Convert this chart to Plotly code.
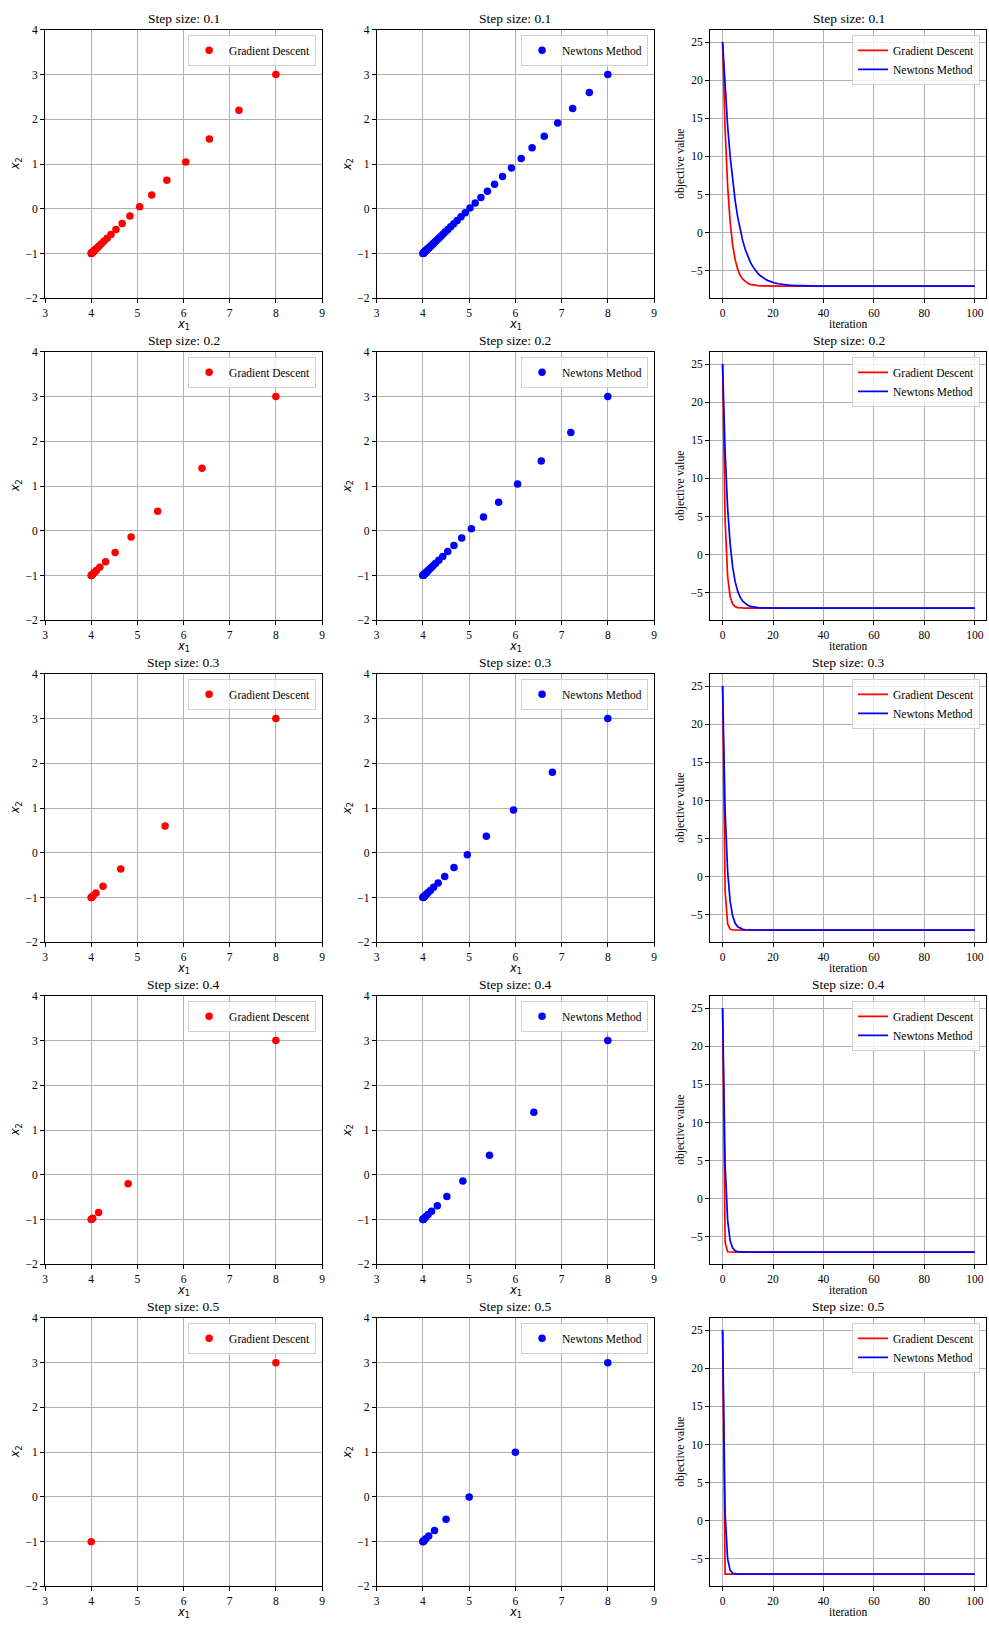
import plotly.graph_objects as go

# ---------------- data ----------------
step_sizes = ["0.1", "0.2", "0.3", "0.4", "0.5"]

# Gradient descent iterates (x1, x2)
gd_01_x1 = [8, 7.2, 6.56, 6.048, 5.638, 5.311, 5.049, 4.839, 4.671, 4.537, 4.429, 4.344, 4.275, 4.220, 4.176, 4.141,
            4.113, 4.090, 4.072, 4.058, 4.046, 4.037, 4.030, 4.024, 4.019, 4.015, 4.012, 4.010, 4.008, 4.006, 4.005, 4.0]
gd_01_x2 = [3, 2.2, 1.56, 1.048, 0.638, 0.311, 0.049, -0.161, -0.329, -0.463, -0.571, -0.656, -0.725, -0.780, -0.824, -0.859,
            -0.887, -0.910, -0.928, -0.942, -0.954, -0.963, -0.970, -0.976, -0.981, -0.985, -0.988, -0.990, -0.992, -0.994, -0.995, -1.0]
gd_02_x1 = [8, 6.4, 5.44, 4.864, 4.518, 4.311, 4.187, 4.112, 4.067, 4.040, 4.024, 4.015, 4.009, 4.005, 4.0]
gd_02_x2 = [3, 1.4, 0.44, -0.136, -0.482, -0.689, -0.813, -0.888, -0.933, -0.960, -0.976, -0.985, -0.991, -0.995, -1.0]
gd_03_x1 = [8, 5.6, 4.64, 4.256, 4.102, 4.041, 4.016, 4.007, 4.003, 4.0]
gd_03_x2 = [3, 0.6, -0.36, -0.744, -0.898, -0.959, -0.984, -0.993, -0.997, -1.0]
gd_04_x1 = [8, 4.8, 4.16, 4.032, 4.006, 4.0]
gd_04_x2 = [3, -0.2, -0.84, -0.968, -0.994, -1.0]
gd_05_x1 = [8, 4.0]
gd_05_x2 = [3, -1.0]

# Newton's method iterates (x1, x2)
nm_01_x1 = [8, 7.6, 7.24, 6.916, 6.624, 6.362, 6.126, 5.913, 5.722, 5.550, 5.395, 5.255, 5.130, 5.017, 4.915, 4.824,
            4.741, 4.667, 4.600, 4.540, 4.486, 4.438, 4.394, 4.355, 4.319, 4.287, 4.259, 4.233, 4.209, 4.188, 4.170, 4.153,
            4.137, 4.124, 4.111, 4.100, 4.090, 4.081, 4.073, 4.066, 4.059, 4.053, 4.048, 4.043, 4.039, 4.035, 4.031, 4.028,
            4.025, 4.023, 4.021, 4.019, 4.017, 4.015, 4.013, 4.012, 4.011, 4.010, 4.0]
nm_01_x2 = [3, 2.6, 2.24, 1.916, 1.624, 1.362, 1.126, 0.913, 0.722, 0.550, 0.395, 0.255, 0.130, 0.017, -0.085, -0.176,
            -0.259, -0.333, -0.400, -0.460, -0.514, -0.562, -0.606, -0.645, -0.681, -0.713, -0.741, -0.767, -0.791, -0.812, -0.830, -0.847,
            -0.863, -0.876, -0.889, -0.900, -0.910, -0.919, -0.927, -0.934, -0.941, -0.947, -0.952, -0.957, -0.961, -0.965, -0.969, -0.972,
            -0.975, -0.977, -0.979, -0.981, -0.983, -0.985, -0.987, -0.988, -0.989, -0.990, -1.0]
nm_02_x1 = [8, 7.2, 6.56, 6.048, 5.638, 5.311, 5.049, 4.839, 4.671, 4.537, 4.429, 4.344, 4.275, 4.220, 4.176, 4.141,
            4.113, 4.090, 4.072, 4.058, 4.046, 4.037, 4.030, 4.024, 4.019, 4.015, 4.012, 4.010, 4.008, 4.006, 4.005, 4.0]
nm_02_x2 = [3, 2.2, 1.56, 1.048, 0.638, 0.311, 0.049, -0.161, -0.329, -0.463, -0.571, -0.656, -0.725, -0.780, -0.824, -0.859,
            -0.887, -0.910, -0.928, -0.942, -0.954, -0.963, -0.970, -0.976, -0.981, -0.985, -0.988, -0.990, -0.992, -0.994, -0.995, -1.0]
nm_03_x1 = [8, 6.8, 5.96, 5.372, 4.960, 4.672, 4.471, 4.329, 4.231, 4.161, 4.113, 4.079, 4.055, 4.039, 4.027, 4.019,
            4.013, 4.009, 4.006, 4.0]
nm_03_x2 = [3, 1.8, 0.96, 0.372, -0.040, -0.328, -0.529, -0.671, -0.769, -0.839, -0.887, -0.921, -0.945, -0.961, -0.973, -0.981,
            -0.987, -0.991, -0.994, -1.0]
nm_04_x1 = [8, 6.4, 5.44, 4.864, 4.518, 4.311, 4.187, 4.112, 4.067, 4.040, 4.024, 4.015, 4.009, 4.005, 4.0]
nm_04_x2 = [3, 1.4, 0.44, -0.136, -0.482, -0.689, -0.813, -0.888, -0.933, -0.960, -0.976, -0.985, -0.991, -0.995, -1.0]
nm_05_x1 = [8, 6, 5, 4.5, 4.25, 4.125, 4.0625, 4.031, 4.016, 4.008, 4.004, 4.0]
nm_05_x2 = [3, 1, 0, -0.5, -0.75, -0.875, -0.9375, -0.969, -0.984, -0.992, -0.996, -1.0]

# objective value per iteration
iterations = [0, 1, 2, 3, 4, 5, 6, 7, 8, 9, 10, 11, 12, 13, 14, 15, 16, 17, 18, 19, 20,
              21, 22, 23, 24, 25, 26, 27, 28, 29, 30, 31, 32, 33, 34, 35, 36, 37, 38, 39, 40, 100]

gd_01_obj = [25, 13.48, 6.107, 1.389, -1.631, -3.564, -4.801, -5.593, -6.099, -6.424, -6.631,
             -6.764, -6.849, -6.903, -6.938, -6.960, -6.975, -6.984, -6.990, -6.993, -6.996,
             -6.997, -6.998, -6.999, -6.999, -7.0, -7.0, -7.0, -7.0, -7.0, -7.0,
             -7.0, -7.0, -7.0, -7.0, -7.0, -7.0, -7.0, -7.0, -7.0, -7.0, -7.0]
gd_02_obj = [25, 4.52, -2.853, -5.507, -6.463, -6.807, -6.930, -6.975, -6.991, -6.997, -6.999,
             -7.0, -7.0, -7.0, -7.0, -7.0, -7.0, -7.0, -7.0, -7.0, -7.0,
             -7.0, -7.0, -7.0, -7.0, -7.0, -7.0, -7.0, -7.0, -7.0, -7.0,
             -7.0, -7.0, -7.0, -7.0, -7.0, -7.0, -7.0, -7.0, -7.0, -7.0, -7.0]
gd_03_obj = [25, -1.88, -6.181, -6.869, -6.979, -6.997, -6.999, -7.0, -7.0, -7.0, -7.0,
             -7.0, -7.0, -7.0, -7.0, -7.0, -7.0, -7.0, -7.0, -7.0, -7.0,
             -7.0, -7.0, -7.0, -7.0, -7.0, -7.0, -7.0, -7.0, -7.0, -7.0,
             -7.0, -7.0, -7.0, -7.0, -7.0, -7.0, -7.0, -7.0, -7.0, -7.0, -7.0]
gd_04_obj = [25, -5.72, -6.949, -6.998, -7.0, -7.0, -7.0, -7.0, -7.0, -7.0, -7.0,
             -7.0, -7.0, -7.0, -7.0, -7.0, -7.0, -7.0, -7.0, -7.0, -7.0,
             -7.0, -7.0, -7.0, -7.0, -7.0, -7.0, -7.0, -7.0, -7.0, -7.0,
             -7.0, -7.0, -7.0, -7.0, -7.0, -7.0, -7.0, -7.0, -7.0, -7.0, -7.0]
gd_05_obj = [25, -7.0, -7.0, -7.0, -7.0, -7.0, -7.0, -7.0, -7.0, -7.0, -7.0,
             -7.0, -7.0, -7.0, -7.0, -7.0, -7.0, -7.0, -7.0, -7.0, -7.0,
             -7.0, -7.0, -7.0, -7.0, -7.0, -7.0, -7.0, -7.0, -7.0, -7.0,
             -7.0, -7.0, -7.0, -7.0, -7.0, -7.0, -7.0, -7.0, -7.0, -7.0, -7.0]

nm_01_obj = [25, 18.92, 13.995, 10.006, 6.775, 4.158, 2.038, 0.321, -1.070, -2.197, -3.109,
             -3.849, -4.447, -4.932, -5.325, -5.643, -5.901, -6.110, -6.279, -6.416, -6.527,
             -6.617, -6.690, -6.749, -6.796, -6.835, -6.866, -6.892, -6.912, -6.929, -6.942,
             -6.953, -6.962, -6.969, -6.975, -6.980, -6.984, -6.987, -6.989, -6.991, -6.993, -7.0]
nm_02_obj = [25, 13.48, 6.107, 1.389, -1.631, -3.564, -4.801, -5.593, -6.099, -6.424, -6.631,
             -6.764, -6.849, -6.903, -6.938, -6.960, -6.975, -6.984, -6.990, -6.993, -6.996,
             -6.997, -6.998, -6.999, -6.999, -7.0, -7.0, -7.0, -7.0, -7.0, -7.0,
             -7.0, -7.0, -7.0, -7.0, -7.0, -7.0, -7.0, -7.0, -7.0, -7.0, -7.0]
nm_03_obj = [25, 8.68, 0.683, -3.235, -5.155, -6.096, -6.557, -6.783, -6.894, -6.948, -6.974,
             -6.987, -6.994, -6.997, -6.998, -6.999, -7.0, -7.0, -7.0, -7.0, -7.0,
             -7.0, -7.0, -7.0, -7.0, -7.0, -7.0, -7.0, -7.0, -7.0, -7.0,
             -7.0, -7.0, -7.0, -7.0, -7.0, -7.0, -7.0, -7.0, -7.0, -7.0, -7.0]
nm_04_obj = [25, 4.52, -2.853, -5.507, -6.463, -6.807, -6.930, -6.975, -6.991, -6.997, -6.999,
             -7.0, -7.0, -7.0, -7.0, -7.0, -7.0, -7.0, -7.0, -7.0, -7.0,
             -7.0, -7.0, -7.0, -7.0, -7.0, -7.0, -7.0, -7.0, -7.0, -7.0,
             -7.0, -7.0, -7.0, -7.0, -7.0, -7.0, -7.0, -7.0, -7.0, -7.0, -7.0]
nm_05_obj = [25, 1.0, -5.0, -6.5, -6.875, -6.969, -6.992, -6.998, -7.0, -7.0, -7.0,
             -7.0, -7.0, -7.0, -7.0, -7.0, -7.0, -7.0, -7.0, -7.0, -7.0,
             -7.0, -7.0, -7.0, -7.0, -7.0, -7.0, -7.0, -7.0, -7.0, -7.0,
             -7.0, -7.0, -7.0, -7.0, -7.0, -7.0, -7.0, -7.0, -7.0, -7.0, -7.0]

x1_ticks = [3, 4, 5, 6, 7, 8, 9]
x2_ticks = [-2, -1, 0, 1, 2, 3, 4]
iter_ticks = [0, 20, 40, 60, 80, 100]
obj_ticks = [-5, 0, 5, 10, 15, 20, 25]

gd_x1 = [gd_01_x1, gd_02_x1, gd_03_x1, gd_04_x1, gd_05_x1]
gd_x2 = [gd_01_x2, gd_02_x2, gd_03_x2, gd_04_x2, gd_05_x2]
nm_x1 = [nm_01_x1, nm_02_x1, nm_03_x1, nm_04_x1, nm_05_x1]
nm_x2 = [nm_01_x2, nm_02_x2, nm_03_x2, nm_04_x2, nm_05_x2]
gd_obj = [gd_01_obj, gd_02_obj, gd_03_obj, gd_04_obj, gd_05_obj]
nm_obj = [nm_01_obj, nm_02_obj, nm_03_obj, nm_04_obj, nm_05_obj]

# ---------------- layout geometry ----------------
W, H = 989, 1631
col_px = [(42.3, 321.0), (376.0, 655.0), (711.3, 989.0)]
row_top0, row_pitch, ax_h = 24.0, 324.4, 270.5
SERIF = "Liberation Serif"
MATH = "DejaVu Sans"
GRID = "#b0b0b0"

fig = go.Figure()
layout = dict(width=W, height=H, margin=dict(l=0, r=0, t=0, b=0),
              paper_bgcolor="white", plot_bgcolor="white",
              font=dict(family=SERIF, size=11, color="black"),
              showlegend=True, annotations=[])


def py(y_px):
    return 1 - y_px / H


def px(x_px):
    return x_px / W


for r in range(5):
    top = row_top0 + r * row_pitch
    bot = top + ax_h
    for c in range(3):
        i = r * 3 + c + 1
        xa = "xaxis" if i == 1 else f"xaxis{i}"
        ya = "yaxis" if i == 1 else f"yaxis{i}"
        xr = "x" if i == 1 else f"x{i}"
        yr = "y" if i == 1 else f"y{i}"
        lg = "legend" if i == 1 else f"legend{i}"
        L, R = col_px[c]
        common = dict(showline=True, mirror=True, linecolor="black", linewidth=0.9,
                      ticks="outside", ticklen=4, tickwidth=0.9, tickcolor="black",
                      showgrid=True, gridcolor=GRID, gridwidth=0.9, zeroline=False,
                      tickfont=dict(family=SERIF, size=11.5, color="black"))
        if c < 2:
            layout[xa] = dict(domain=[px(L), px(R)], anchor=yr, range=[3, 9],
                              tickvals=x1_ticks, **common)
            layout[ya] = dict(domain=[py(bot), py(top)], anchor=xr, range=[-2, 4],
                              tickvals=x2_ticks, **common)
            if c == 0:
                fig.add_trace(go.Scatter(x=gd_x1[r], y=gd_x2[r], mode="markers",
                                         marker=dict(color="red", size=7.5),
                                         name="Gradient Descent", xaxis=xr, yaxis=yr,
                                         legend=lg))
            else:
                fig.add_trace(go.Scatter(x=nm_x1[r], y=nm_x2[r], mode="markers",
                                         marker=dict(color="blue", size=7.5),
                                         name="Newtons Method", xaxis=xr, yaxis=yr,
                                         legend=lg))
            xlabel = "<i>x</i><sub>1</sub>"
            ylabel = "<i>x</i><sub>2</sub>"
            lab_font = dict(family=MATH, size=11.5, color="black")
            ylab_x = L - 30
        else:
            layout[xa] = dict(domain=[px(L), 1.0], anchor=yr, range=[-5, 104.46],
                              tickvals=iter_ticks, **common)
            layout[ya] = dict(domain=[py(bot), py(top)], anchor=xr, range=[-8.6, 26.6],
                              tickvals=obj_ticks, **common)
            fig.add_trace(go.Scatter(x=iterations, y=gd_obj[r], mode="lines",
                                     line=dict(color="red", width=1.7),
                                     name="Gradient Descent", xaxis=xr, yaxis=yr, legend=lg))
            fig.add_trace(go.Scatter(x=iterations, y=nm_obj[r], mode="lines",
                                     line=dict(color="blue", width=1.7),
                                     name="Newtons Method", xaxis=xr, yaxis=yr, legend=lg))
            xlabel = "iteration"
            ylabel = "objective value"
            lab_font = dict(family=SERIF, size=11.5, color="black")
            ylab_x = L - 29.6
        # legend
        right_edge = min(R, 990.4)
        layout[lg] = dict(x=px(right_edge - 6), y=py(top + 5), xanchor="right", yanchor="top",
                          xref="paper", yref="paper",
                          bgcolor="rgba(255,255,255,0.8)", bordercolor="#d0d0d0", borderwidth=1,
                          font=dict(family=SERIF, size=11.5, color="black"),
                          itemwidth=30, tracegroupgap=0)
        cx = (L + (R if c < 2 else 990.4)) / 2
        # subplot title
        layout["annotations"].append(dict(text=f"Step size: {step_sizes[r]}", x=px(cx), y=py(top - 11),
                                          xref="paper", yref="paper", xanchor="center", yanchor="middle",
                                          showarrow=False, font=dict(family=SERIF, size=13.5, color="black")))
        # x label
        layout["annotations"].append(dict(text=xlabel, x=px(cx), y=py(bot + 26), xref="paper", yref="paper",
                                          xanchor="center", yanchor="middle", showarrow=False, font=lab_font))
        # y label
        layout["annotations"].append(dict(text=ylabel, x=px(ylab_x), y=py((top + bot) / 2), xref="paper",
                                          yref="paper", xanchor="center", yanchor="middle", textangle=-90,
                                          showarrow=False, font=lab_font))

fig.update_layout(**layout)
fig.write_html("out.html", config={"displayModeBar": False},
               post_script="document.body.style.margin='0';document.body.style.padding='0';"
                           "document.body.style.overflow='hidden';")
